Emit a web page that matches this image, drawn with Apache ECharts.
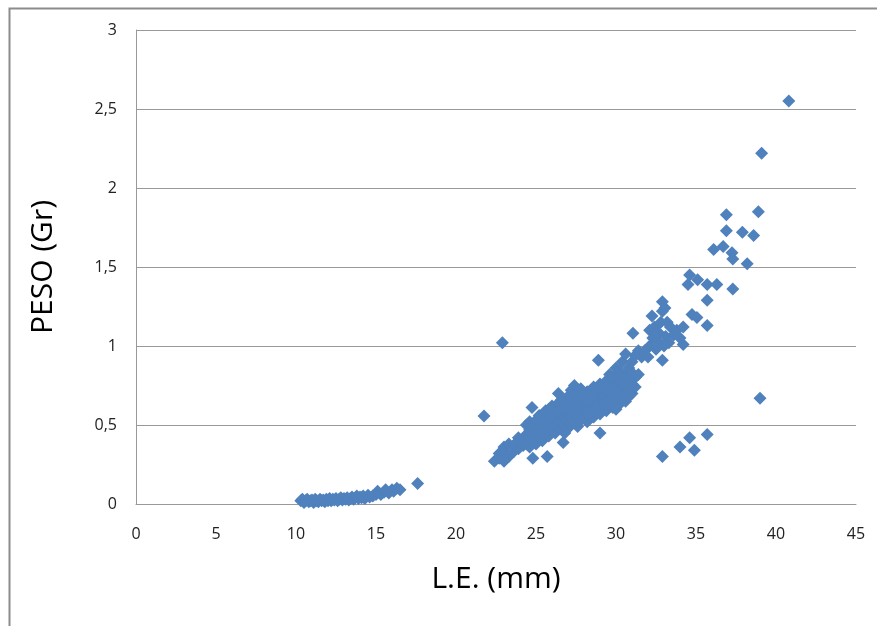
<!DOCTYPE html>
<html>
<head>
<meta charset="utf-8">
<script src="https://cdn.jsdelivr.net/npm/echarts@6/dist/echarts.min.js"></script>
<style>
html,body{margin:0;padding:0;background:#fff;}
#chart{width:877px;height:626px;}
</style>
</head>
<body>
<div id="chart"></div>
<script>
// L.E. (mm) vs PESO (Gr)
var juvenileLE = [10.3,10.4,10.5,10.6,10.7,10.8,10.9,11.0,11.1,11.2,11.3,11.4,11.5,11.6,11.7,11.8,11.9,12.0,12.1,12.2,12.3,12.4,12.5,12.6,12.7,12.8,12.9,13.0,13.1,13.2,13.3,13.4,13.5,13.6,13.7,13.8,13.9,14.0,14.1,14.2,14.3,14.5,14.6,14.8,15.0,15.1,15.3,15.5,15.6,15.8,16.0,16.1,16.3,16.5,17.6];
var juvenilePeso = [0.02,0.03,0.01,0.02,0.03,0.015,0.02,0.025,0.01,0.03,0.02,0.015,0.03,0.02,0.025,0.015,0.03,0.02,0.035,0.02,0.03,0.025,0.035,0.02,0.03,0.04,0.025,0.035,0.03,0.04,0.025,0.035,0.045,0.03,0.04,0.05,0.035,0.045,0.04,0.05,0.035,0.055,0.045,0.05,0.06,0.08,0.06,0.075,0.09,0.07,0.09,0.08,0.1,0.09,0.13];

var adultLE = [
21.75,22.9,22.4,22.7,22.7,23.0,23.0,23.0,23.3,23.3,23.6,23.6,23.9,23.9,23.9,24.2,24.2,24.4,24.4,24.4,
24.6,24.6,24.6,24.6,24.75,24.8,24.8,24.8,24.8,25.0,25.0,25.0,25.0,25.2,25.2,25.2,25.2,25.4,25.4,25.4,25.4,25.6,25.6,25.6,25.6,25.6,25.7,
25.8,25.8,25.8,25.8,26.0,26.0,26.0,26.0,26.2,26.2,26.2,26.2,26.4,26.4,26.4,26.4,26.4,26.6,26.6,26.6,26.6,26.6,26.7,
26.8,26.8,26.8,26.8,26.8,27.0,27.0,27.0,27.0,27.0,27.2,27.2,27.2,27.2,27.2,27.4,27.4,27.4,27.4,27.4,
27.6,27.6,27.6,27.6,27.6,27.8,27.8,27.8,27.8,27.8,28.0,28.0,28.0,28.0,28.2,28.2,28.2,28.2,28.2,
28.4,28.4,28.4,28.4,28.6,28.6,28.6,28.6,28.6,28.8,28.8,28.8,28.8,28.9,29.0,29.0,29.0,29.0,29.0,29.0,
29.2,29.2,29.2,29.2,29.4,29.4,29.4,29.4,29.4,29.6,29.6,29.6,29.6,29.6,29.8,29.8,29.8,29.8,29.8,
30.0,30.0,30.0,30.0,30.0,30.0,30.2,30.2,30.2,30.2,30.2,30.4,30.4,30.4,30.4,30.4,30.6,30.6,30.6,30.6,30.6,
30.8,30.8,30.8,30.8,31.0,31.0,31.0,31.0,31.06,31.2,31.2,31.2,31.4,31.4,
31.6,31.8,32.0,32.1,32.1,32.25,32.3,32.4,32.5,32.6,32.7,32.8,32.9,32.9,32.9,33.0,33.06,33.1,33.2,33.3,33.4,33.6,
33.8,34.0,34.2,34.2,34.5,34.6,34.75,35.06,35.1,35.7,35.7,35.7,36.1,36.3,36.7,36.9,36.9,37.25,37.3,37.3,37.9,38.2,38.6,38.9,39.0,39.1,40.8,
32.9,34.0,34.6,34.9,35.7
];
var adultPeso = [
0.557,1.02,0.27,0.29,0.32,0.27,0.33,0.36,0.30,0.38,0.33,0.37,0.35,0.40,0.42,0.37,0.41,0.38,0.44,0.50,
0.36,0.42,0.47,0.52,0.61,0.40,0.45,0.49,0.29,0.38,0.43,0.48,0.53,0.42,0.46,0.51,0.56,0.40,0.45,0.50,0.55,0.44,0.48,0.53,0.57,0.59,0.30,
0.43,0.47,0.52,0.60,0.46,0.50,0.55,0.62,0.45,0.49,0.54,0.58,0.48,0.52,0.57,0.64,0.70,0.47,0.51,0.56,0.61,0.66,0.39,
0.45,0.50,0.55,0.60,0.66,0.48,0.53,0.58,0.63,0.68,0.50,0.55,0.60,0.65,0.72,0.52,0.57,0.62,0.67,0.75,
0.49,0.55,0.60,0.65,0.70,0.53,0.58,0.63,0.68,0.73,0.55,0.60,0.64,0.69,0.52,0.57,0.62,0.66,0.71,
0.56,0.60,0.65,0.70,0.55,0.59,0.63,0.68,0.74,0.58,0.62,0.67,0.71,0.91,0.57,0.61,0.66,0.70,0.76,0.45,
0.60,0.64,0.69,0.73,0.59,0.63,0.68,0.72,0.78,0.62,0.66,0.71,0.76,0.82,0.61,0.65,0.70,0.74,0.80,
0.60,0.64,0.69,0.74,0.79,0.86,0.63,0.68,0.73,0.78,0.84,0.66,0.71,0.76,0.82,0.90,0.65,0.70,0.75,0.81,0.95,
0.68,0.73,0.79,0.86,0.70,0.76,0.83,0.90,1.08,0.74,0.80,0.94,0.82,0.97,
0.93,0.97,0.93,1.00,1.10,1.19,1.05,1.12,0.98,1.03,1.08,1.15,0.91,1.22,1.28,1.00,1.24,1.06,1.15,1.02,1.12,1.07,
1.10,1.05,1.12,1.01,1.39,1.45,1.20,1.18,1.42,1.39,1.29,1.13,1.61,1.39,1.63,1.83,1.73,1.59,1.55,1.36,1.72,1.52,1.70,1.85,0.67,2.22,2.55,
0.30,0.36,0.42,0.34,0.44
];
var xTicks = [0,5,10,15,20,25,30,35,40,45];
var yTicks = ['0','0,5','1','1,5','2','2,5','3'];

var points = [];
for (var i = 0; i < juvenileLE.length; i++) points.push([juvenileLE[i], juvenilePeso[i]]);
for (var j = 0; j < adultLE.length; j++) points.push([adultLE[j], adultPeso[j]]);

var font = '"Open Sans", Lato, sans-serif';
var chart = echarts.init(document.getElementById('chart'), null, {renderer: 'canvas'});
chart.setOption({
  animation: false,
  backgroundColor: '#fff',
  graphic: [{
    type: 'rect', left: 7, top: 6, shape: {width: 900, height: 700},
    style: {fill: 'none', stroke: '#8c8c8c', lineWidth: 2}, silent: true
  }],
  grid: {left: 136, right: 21, top: 30, bottom: 122},
  xAxis: {
    type: 'value', min: 0, max: 45, interval: 5,
    name: 'L.E. (mm)', nameLocation: 'middle', nameGap: 60,
    nameTextStyle: {fontFamily: font, fontSize: 30, color: '#000'},
    axisLine: {show: true, lineStyle: {color: '#999', width: 1}},
    axisTick: {show: false},
    splitLine: {show: false},
    axisLabel: {fontFamily: font, fontSize: 16, color: '#222', margin: 22,
      formatter: function (v) { return xTicks.indexOf(v) >= 0 ? String(v) : ''; }}
  },
  yAxis: {
    type: 'value', min: 0, max: 3, interval: 0.5,
    name: 'PESO (Gr)', nameLocation: 'middle', nameGap: 78, nameRotate: 90,
    nameTextStyle: {fontFamily: font, fontSize: 30, color: '#000'},
    axisLine: {show: true, lineStyle: {color: '#999', width: 1}},
    axisTick: {show: false},
    splitLine: {show: true, lineStyle: {color: '#999', width: 1}},
    axisLabel: {fontFamily: font, fontSize: 16, color: '#222', margin: 19,
      formatter: function (v) { return yTicks[Math.round(v * 2)]; }}
  },
  series: [{
    type: 'scatter',
    symbol: 'diamond',
    symbolSize: 13,
    itemStyle: {color: '#4f81bd', opacity: 1},
    data: points
  }]
});
</script>
</body>
</html>
